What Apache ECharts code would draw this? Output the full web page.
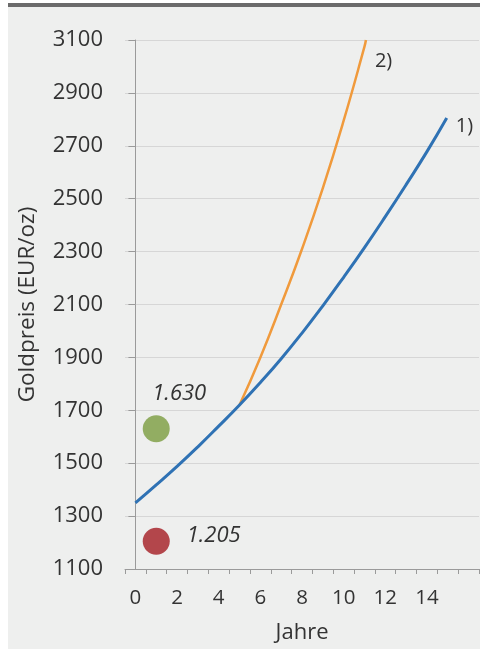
<!DOCTYPE html>
<html>
<head>
<meta charset="utf-8">
<script src="https://cdn.jsdelivr.net/npm/echarts@6/dist/echarts.min.js"></script>
<style>
html,body{margin:0;padding:0;background:#ffffff;}
#chart{width:480px;height:649px;}
</style>
</head>
<body>
<div id="chart"></div>
<script>
// ---- data ----
var xCategories = ['0','1','2','3','4','5','6','7','8','9','10','11','12','13','14','15','16'];
var xTickLabels = ['0','','2','','4','','6','','8','','10','','12','','14','',''];
var yTicks = {min: 1100, max: 3100, step: 200};

var blueYears  = [0, 1, 2, 3, 4, 5, 6, 7, 8, 9, 10, 11, 12, 13, 14, 14.95];
var blueValues = [1350, 1418, 1488, 1562, 1640, 1720, 1805, 1895, 1992, 2095, 2203, 2315, 2432, 2553, 2678, 2805];

var orangeYears  = [5, 6, 7, 8, 9, 10, 11, 11.07];
var orangeValues = [1720, 1900, 2100, 2310, 2540, 2795, 3075, 3100];

var greenPoint = [1, 1630];
var greenLabel = '1.630';
var redPoint = [1, 1205];
var redLabel = '1.205';

var seriesNames = ['1)', '2)'];

function pairs(xs, ys){ return xs.map(function(x,i){ return [x, ys[i]]; }); }

var chart = echarts.init(document.getElementById('chart'), null, {renderer:'canvas'});
var FONT = '"Open Sans", sans-serif';

chart.setOption({
  animation: false,
  backgroundColor: '#ffffff',
  graphic: [
    {type:'rect', z:-10, shape:{x:8, y:7, width:472, height:642}, style:{fill:'#eeefee'}},
    {type:'rect', z:-10, shape:{x:8, y:3, width:472, height:4}, style:{fill:'#6b6b6b'}}
  ],
  grid: {left:125, right:1, top:40, bottom:78, containLabel:false},
  xAxis: [
    {
      type:'category', data: xCategories, boundaryGap:true, position:'bottom',
      axisLine:{show:true, lineStyle:{color:'#9a9a9a', width:1}},
      axisTick:{show:true, interval:0, length:5, lineStyle:{color:'#9a9a9a'}},
      axisLabel:{interval:0, fontFamily:FONT, fontSize:20.5, color:'#333', margin:19,
        formatter:function(v, i){ return xTickLabels[i]; }},
      splitLine:{show:false},
      name:'Jahre', nameLocation:'middle', nameGap:53,
      nameTextStyle:{fontFamily:FONT, fontSize:22, color:'#333'}
    },
    {type:'value', min:-0.5, max:16.5, show:false}
  ],
  yAxis: {
    type:'value', min:yTicks.min, max:yTicks.max, interval:yTicks.step,
    axisLine:{show:true, lineStyle:{color:'#9a9a9a'}},
    axisTick:{show:true, length:7, lineStyle:{color:'#9a9a9a'}},
    axisLabel:{fontFamily:FONT, fontSize:22, color:'#333', margin:22,
      formatter:function(v){ return String(v); }},
    splitLine:{show:true, lineStyle:{color:'#d6d6d6', width:1}},
    name:'Goldpreis (EUR/oz)', nameLocation:'middle', nameGap:86, nameRotate:90,
    nameTextStyle:{fontFamily:FONT, fontSize:22.5, color:'#333'}
  },
  series: [
    {
      name: seriesNames[0], type:'line', xAxisIndex:1, smooth:true, showSymbol:false,
      data: pairs(blueYears, blueValues),
      lineStyle:{color:'#2f72b4', width:3}, itemStyle:{color:'#2f72b4'},
      endLabel:{show:true, formatter:seriesNames[0], fontFamily:FONT, fontSize:20, color:'#333', distance:9, offset:[0,8]},
      z:2
    },
    {
      name: seriesNames[1], type:'line', xAxisIndex:1, smooth:true, showSymbol:false,
      data: pairs(orangeYears, orangeValues),
      lineStyle:{color:'#f09a3c', width:2.5}, itemStyle:{color:'#f09a3c'},
      endLabel:{show:true, formatter:seriesNames[1], fontFamily:FONT, fontSize:20, color:'#333', distance:9, offset:[0,21]},
      z:1
    },
    {
      type:'scatter', xAxisIndex:1, symbolSize:27,
      data:[greenPoint], itemStyle:{color:'#92ad62', opacity:1},
      label:{show:true, formatter:greenLabel, position:'top', distance:11, offset:[23,0],
        fontFamily:FONT, fontSize:22, fontStyle:'italic', color:'#333'}
    },
    {
      type:'scatter', xAxisIndex:1, symbolSize:27,
      data:[redPoint], itemStyle:{color:'#b3464b', opacity:1},
      label:{show:true, formatter:redLabel, position:'right', distance:17, offset:[0,-5],
        fontFamily:FONT, fontSize:22, fontStyle:'italic', color:'#333'}
    }
  ]
});
</script>
</body>
</html>
